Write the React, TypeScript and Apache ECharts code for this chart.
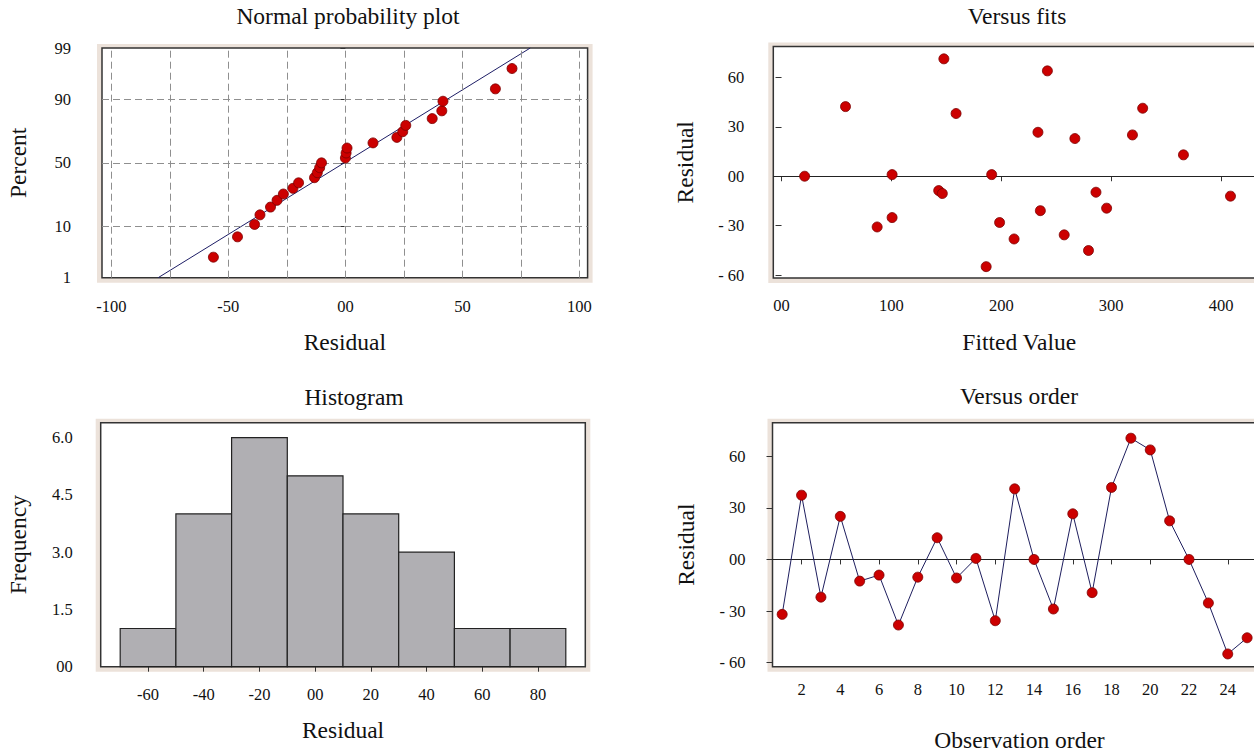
import React, { useEffect, useRef } from "react";
import * as echarts from "echarts";

// ---- Normal probability plot ----
const probResidual = [-56.4, -46.1, -38.8, -36.5, -32.0, -29.2, -26.5, -22.4, -20.0, -13.2, -12.0, -11.0, -10.2, 0.0, 0.3, 0.7, 11.8, 22.0, 24.5, 25.8, 37.1, 41.2, 41.7, 64.1, 71.2];
const probPercent = [2.8, 6.7, 10.6, 14.6, 18.5, 22.4, 26.4, 30.3, 34.3, 38.2, 42.1, 46.1, 50.0, 53.9, 57.9, 61.8, 65.7, 69.7, 73.6, 77.6, 81.5, 85.4, 89.4, 93.3, 97.2];
const fitLineResidual = [-80, 79];
const fitLinePercent = [1, 99];
const probPercentTicks = [1, 10, 50, 90, 99];
const probPercentGrid = [10, 50, 90];
const probResidualTicks = [-100, -50, 0, 50, 100];
const probResidualGrid = [-100, -75, -50, -25, 0, 25, 50, 75, 100];

// ---- Versus fits ----
const fittedValues = [21, 58.2, 87, 100.6, 100.6, 143, 146.3, 147.7, 158.8, 186.2, 191.2, 198.4, 211.6, 233.3, 235.5, 241.9, 257.2, 266.9, 279.3, 286.1, 295.8, 319.3, 328.6, 365.7, 408.5];
const fitsResidual = [0, 42.3, -30.8, -25.1, 1.0, -8.7, -10.5, 71.3, 38.1, -54.9, 1.0, -28.1, -38.1, 26.7, -20.9, 64, -35.6, 22.9, -45.1, -9.7, -19.4, 25.1, 41.3, 13, -12.1];
const fitsXTicks = [0, 100, 200, 300, 400];
const residualTicks = [-60, -30, 0, 30, 60];

// ---- Histogram ----
const binStart = [-70, -50, -30, -10, 10, 30, 50, 70];
const binEnd = [-50, -30, -10, 10, 30, 50, 70, 90];
const binCount = [1, 4, 6, 5, 4, 3, 1, 1];
const histXTicks = [-60, -40, -20, 0, 20, 40, 60, 80];
const histYTicks = [0, 1.5, 3, 4.5, 6];

// ---- Versus order ----
const observation = [1, 2, 3, 4, 5, 6, 7, 8, 9, 10, 11, 12, 13, 14, 15, 16, 17, 18, 19, 20, 21, 22, 23, 24, 25];
const orderResidual = [-31.9, 37.3, -21.9, 25, -12.6, -9.1, -38.1, -10.3, 12.6, -10.8, 0.6, -35.6, 41, 0, -28.8, 26.5, -19.3, 41.8, 70.4, 63.6, 22.4, 0, -25.3, -54.9, -45.5];
const orderTicks = [2, 4, 6, 8, 10, 12, 14, 16, 18, 20, 22, 24];

// inverse standard normal CDF (probability scale transform)
function normInv(p: number): number {
  const a = [-3.969683028665376e1, 2.209460984245205e2, -2.759285104469687e2, 1.38357751867269e2, -3.066479806614716e1, 2.506628277459239];
  const b = [-5.447609879822406e1, 1.615858368580409e2, -1.556989798598866e2, 6.680131188771972e1, -1.328068155288572e1];
  const c = [-7.784894002430293e-3, -3.223964580411365e-1, -2.400758277161838, -2.549732539343734, 4.374664141464968, 2.938163982698783];
  const d = [7.784695709041462e-3, 3.224671290700398e-1, 2.445134137142996, 3.754408661907416];
  const pl = 0.02425;
  if (p < pl) {
    const q = Math.sqrt(-2 * Math.log(p));
    return (((((c[0] * q + c[1]) * q + c[2]) * q + c[3]) * q + c[4]) * q + c[5]) / ((((d[0] * q + d[1]) * q + d[2]) * q + d[3]) * q + 1);
  }
  if (p > 1 - pl) {
    const q = Math.sqrt(-2 * Math.log(1 - p));
    return -(((((c[0] * q + c[1]) * q + c[2]) * q + c[3]) * q + c[4]) * q + c[5]) / ((((d[0] * q + d[1]) * q + d[2]) * q + d[3]) * q + 1);
  }
  const q = p - 0.5;
  const r = q * q;
  return ((((((a[0] * r + a[1]) * r + a[2]) * r + a[3]) * r + a[4]) * r + a[5]) * q) / (((((b[0] * r + b[1]) * r + b[2]) * r + b[3]) * r + b[4]) * r + 1);
}

const FONT = "Liberation Serif";
const TXT = "#111";
const RED = "#cc0000";
const BEIGE = "#ece2da";
const TICK_FS = 16.5;
const NAME_FS = 23.5;

const grids = [
  { left: 102, top: 48, width: 485.6, height: 229.7 },
  { left: 773.3, top: 46.5, width: 491.8, height: 231.5 },
  { left: 100.7, top: 422.7, width: 484.6, height: 244 },
  { left: 772.5, top: 422.7, width: 494, height: 244 },
];

const fmtZero = (v: number) => (v === 0 ? "00" : String(v));
const fmtResidual = (v: number) => (v === 0 ? "00" : v < 0 ? "- " + Math.abs(v) : String(v));

function axisBase(gridIndex: number, extra: any) {
  return {
    type: "value",
    gridIndex,
    axisLine: { show: false },
    splitLine: { show: false },
    axisTick: { show: true, length: 5, lineStyle: { color: "#333", width: 1 } },
    axisLabel: { fontFamily: FONT, fontSize: TICK_FS, color: TXT },
    nameTextStyle: { fontFamily: FONT, fontSize: NAME_FS, color: TXT },
    nameLocation: "middle",
    ...extra,
  };
}

const dotStyle = { color: RED, borderColor: "#7a0000", borderWidth: 0.8, opacity: 1 };

export default function App() {
  const ref = useRef<HTMLDivElement>(null);
  useEffect(() => {
    if (!ref.current) return;
    const chart = echarts.init(ref.current, undefined, { renderer: "svg" });

    const zMin = normInv(fitLinePercent[0] / 100);
    const zMax = normInv(fitLinePercent[1] / 100);
    const zTicks = probPercentTicks.map((p) => normInv(p / 100));
    const zLabel = (v: number) => {
      let best = 0;
      zTicks.forEach((z, i) => {
        if (Math.abs(z - v) < Math.abs(zTicks[best] - v)) best = i;
      });
      return String(probPercentTicks[best]);
    };

    const dash = { color: "#8f8f8f", width: 1, type: [7, 4] as any };
    const lbl = (margin: number, customValues: number[], formatter?: any) => ({
      fontFamily: FONT, fontSize: TICK_FS, color: TXT, margin, customValues, formatter,
    });
    const tick = (customValues: number[], length = 5) => ({
      show: true, length, customValues, lineStyle: { color: "#333" },
    });

    const option: any = {
      animation: false,
      backgroundColor: "#fff",
      textStyle: { fontFamily: FONT },
      title: [
        { text: "Normal probability plot", left: 343, top: -1 },
        { text: "Versus fits", left: 1012, top: -1 },
        { text: "Histogram", left: 349, top: 380 },
        { text: "Versus order", left: 1014, top: 379 },
      ].map((t) => ({ ...t, textAlign: "center", textStyle: { fontFamily: FONT, fontSize: NAME_FS, fontWeight: "normal", color: TXT } })),
      graphic: {
        elements: grids.map((g) => ({
          type: "rect",
          z: -10,
          shape: { x: g.left - 5, y: g.top - 4, width: g.width + 10, height: g.height + 9 },
          style: { fill: BEIGE },
          silent: true,
        })),
      },
      grid: grids.map((g) => ({
        ...g,
        show: true,
        backgroundColor: "#fff",
        borderColor: "#333",
        borderWidth: 1.5,
        outerBoundsMode: "none",
        containLabel: false,
      })),
      xAxis: [
        axisBase(0, {
          min: -104, max: 103.5, name: "Residual", nameGap: 52,
          axisLabel: lbl(20, probResidualTicks, fmtZero), axisTick: tick(probResidualTicks),
        }),
        axisBase(1, {
          min: -7.5, max: 440, name: "Fitted Value", nameGap: 52,
          axisLabel: lbl(19, fitsXTicks, fmtZero), axisTick: tick(fitsXTicks),
        }),
        axisBase(2, {
          min: -77, max: 97, name: "Residual", nameGap: 51,
          axisLabel: lbl(19, histXTicks, fmtZero), axisTick: tick(histXTicks),
        }),
        axisBase(3, {
          min: 0.5, max: 26, name: "Observation order", nameGap: 61,
          axisLabel: lbl(14, orderTicks), axisTick: tick(orderTicks),
        }),
      ],
      yAxis: [
        axisBase(0, {
          min: zMin, max: zMax, name: "Percent", nameGap: 72,
          axisLabel: lbl(31, zTicks, zLabel), axisTick: tick(zTicks),
        }),
        axisBase(1, {
          min: -61.8, max: 78.8, name: "Residual", nameGap: 76,
          axisLabel: lbl(29, residualTicks, fmtResidual), axisTick: tick(residualTicks, 6),
        }),
        axisBase(2, {
          min: 0, max: 6.39, name: "Frequency", nameGap: 71,
          axisLabel: lbl(28, histYTicks, (v: number) => (v === 0 ? "00" : v.toFixed(1))),
          axisTick: { show: false, customValues: histYTicks },
        }),
        axisBase(3, {
          min: -62.3, max: 79.4, name: "Residual", nameGap: 75,
          axisLabel: lbl(27, residualTicks, fmtResidual), axisTick: tick(residualTicks, 6),
        }),
      ],
      series: [
        {
          type: "line",
          xAxisIndex: 0,
          yAxisIndex: 0,
          data: fitLineResidual.map((x, i) => [x, normInv(fitLinePercent[i] / 100)]),
          symbol: "none",
          lineStyle: { color: "#1e1e66", width: 1 },
          z: 3,
          markLine: {
            silent: true,
            symbol: "none",
            label: { show: false },
            lineStyle: dash,
            data: [
              ...probResidualGrid.map((v) => ({ xAxis: v })),
              ...probPercentGrid.map((p) => ({ yAxis: normInv(p / 100) })),
            ],
          },
        },
        {
          type: "scatter",
          xAxisIndex: 0,
          yAxisIndex: 0,
          data: probResidual.map((x, i) => [x, normInv(probPercent[i] / 100)]),
          symbolSize: 10,
          itemStyle: dotStyle,
          z: 5,
        },
        {
          type: "scatter",
          xAxisIndex: 1,
          yAxisIndex: 1,
          data: fittedValues.map((x, i) => [x, fitsResidual[i]]),
          symbolSize: 10,
          itemStyle: dotStyle,
          z: 5,
          markLine: {
            silent: true,
            symbol: "none",
            label: { show: false },
            lineStyle: { color: "#222", width: 1.2, type: "solid" },
            data: [{ yAxis: 0 }],
          },
        },
        {
          type: "custom",
          xAxisIndex: 2,
          yAxisIndex: 2,
          data: binStart.map((s, i) => [s, binEnd[i], binCount[i]]),
          encode: { x: [0, 1], y: 2 },
          renderItem: (params: any, api: any) => {
            const p0 = api.coord([api.value(0), api.value(2)]);
            const p1 = api.coord([api.value(1), 0]);
            return {
              type: "rect",
              shape: { x: p0[0], y: p0[1], width: p1[0] - p0[0], height: p1[1] - p0[1] },
              style: { fill: "#b0afb3", stroke: "#222", lineWidth: 1.2 },
            };
          },
        },
        {
          type: "line",
          xAxisIndex: 3,
          yAxisIndex: 3,
          data: observation.map((x, i) => [x, orderResidual[i]]),
          symbol: "circle",
          symbolSize: 10,
          lineStyle: { color: "#1e1e5e", width: 1 },
          itemStyle: dotStyle,
          z: 5,
          markLine: {
            silent: true,
            symbol: "none",
            label: { show: false },
            lineStyle: { color: "#222", width: 1.2, type: "solid" },
            data: [{ yAxis: 0 }],
          },
        },
      ],
    };
    chart.setOption(option);
    return () => chart.dispose();
  }, []);
  return (
    <div
      ref={ref}
      style={{ position: "fixed", left: 0, top: 0, width: 1254, height: 756, background: "#fff" }}
    />
  );
}
